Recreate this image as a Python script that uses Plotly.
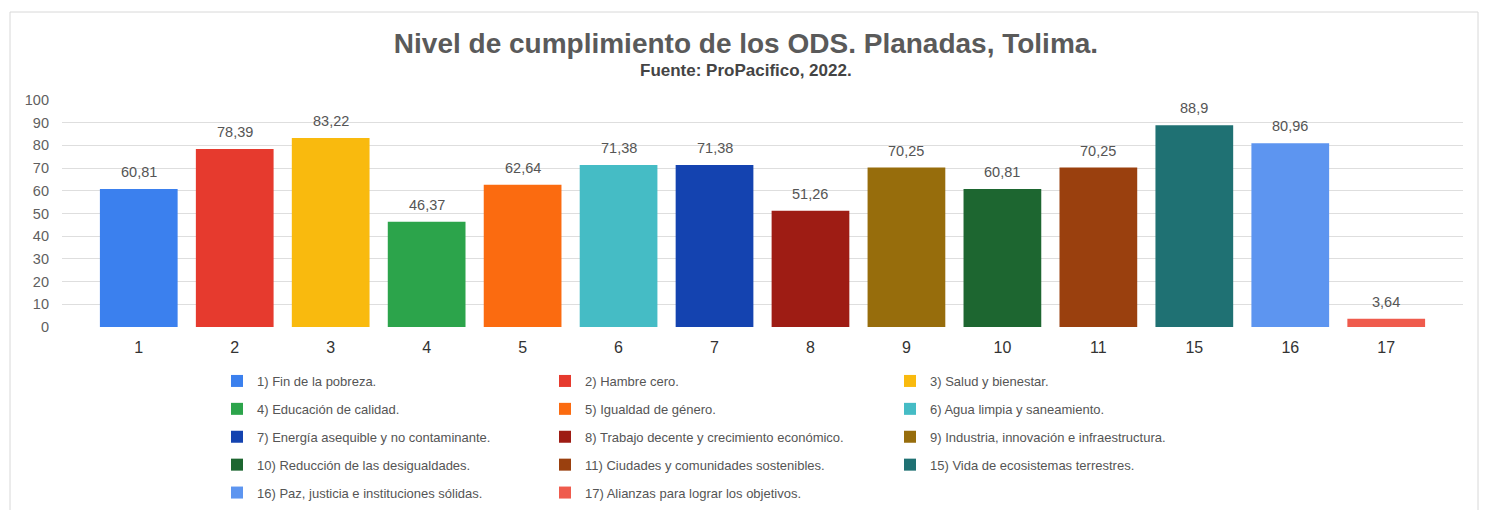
import plotly.graph_objects as go

categories = ["1", "2", "3", "4", "5", "6", "7", "8", "9", "10", "11", "15", "16", "17"]
values = [60.81, 78.39, 83.22, 46.37, 62.64, 71.38, 71.38, 51.26, 70.25, 60.81, 70.25, 88.9, 80.96, 3.64]
legend_names = [
    "1) Fin de la pobreza.",
    "2) Hambre cero.",
    "3) Salud y bienestar.",
    "4) Educación de calidad.",
    "5) Igualdad de género.",
    "6) Agua limpia y saneamiento.",
    "7) Energía asequible y no contaminante.",
    "8) Trabajo decente y crecimiento económico.",
    "9) Industria, innovación e infraestructura.",
    "10) Reducción de las desigualdades.",
    "11) Ciudades y comunidades sostenibles.",
    "15) Vida de ecosistemas terrestres.",
    "16) Paz, justicia e instituciones sólidas.",
    "17) Alianzas para lograr los objetivos.",
]
colors = [
    "#3b80ee", "#e63a2e", "#f9ba0e", "#2ca44b", "#fb6b10", "#45bcc5", "#1443b0",
    "#9e1c14", "#976d0c", "#1d6630", "#9a400e", "#1f7173", "#5d95f0", "#ef5b4d",
]
title_text = "Nivel de cumplimiento de los ODS. Planadas, Tolima."
subtitle_text = "Fuente: ProPacifico, 2022."

FONT = "Liberation Sans, Arial, sans-serif"

# page offset (default body margin) and figure geometry
OFF = 8
W, H = 1480, 502
PL, PR, PT, PB = 54, 25, 92, 183
pw = W - PL - PR
ph = H - PT - PB


def px_to_xpaper(px):
    return (px - OFF - PL) / pw


def py_to_ypaper(py):
    return (H - PB - (py - OFF)) / ph


def fmt(v):
    return ("%g" % v).replace(".", ",")


fig = go.Figure()
legend_ids = ["legend", "legend2", "legend3"]
for i, (cat, val, name, col) in enumerate(zip(categories, values, legend_names, colors)):
    fig.add_trace(go.Bar(
        x=[cat], y=[val], name=name,
        marker=dict(color=col, line=dict(width=0)),
        width=0.81,
        legend=legend_ids[i % 3],
        legendgroup="g%d" % i,
        hoverinfo="x+y",
    ))
    fig.add_annotation(
        x=i, y=val, xref="x", yref="y", text=fmt(val), showarrow=False,
        yanchor="bottom", yshift=7,
        font=dict(family=FONT, size=14.5, color="#555555"),
    )

fig.add_annotation(
    text="<b>%s</b>" % subtitle_text, xref="paper", yref="paper",
    x=px_to_xpaper(746), xanchor="center", y=py_to_ypaper(70), yanchor="middle",
    showarrow=False, font=dict(family=FONT, size=17, color="#444444"),
)

leg_common = dict(
    orientation="v", yanchor="top", xanchor="left",
    font=dict(family=FONT, size=13, color="#555555"),
    bgcolor="rgba(0,0,0,0)", traceorder="grouped", tracegroupgap=8,
    itemclick=False, itemdoubleclick=False,
)

fig.update_layout(
    width=W, height=H,
    margin=dict(l=PL, r=PR, t=PT, b=PB, autoexpand=False),
    paper_bgcolor="white", plot_bgcolor="white",
    barmode="overlay",
    showlegend=True,
    title=dict(
        text="<b>%s</b>" % title_text,
        x=(746 - OFF) / W, xanchor="center", xref="container",
        y=1 - (43 - OFF) / H, yanchor="middle", yref="container",
        font=dict(family=FONT, size=28, color="#5a5a5a"),
    ),
    xaxis=dict(
        type="category", range=[-0.8, 13.8],
        showgrid=False, zeroline=False, showline=False, ticks="",
        tickfont=dict(family=FONT, size=16, color="#333333"),
        ticklabelstandoff=9,
        fixedrange=True,
    ),
    yaxis=dict(
        range=[0, 100], dtick=10, tick0=0,
        showgrid=True, gridcolor="#dedede", gridwidth=1,
        zeroline=False, showline=False, ticks="",
        tickfont=dict(family=FONT, size=14.5, color="#5f5f5f"),
        ticklabelstandoff=12,
        fixedrange=True,
    ),
    legend=dict(leg_common, x=px_to_xpaper(217), y=py_to_ypaper(366)),
    legend2=dict(leg_common, x=px_to_xpaper(545), y=py_to_ypaper(366)),
    legend3=dict(leg_common, x=px_to_xpaper(890), y=py_to_ypaper(366)),
    shapes=[dict(
        type="rect", xref="paper", yref="paper", layer="below",
        x0=px_to_xpaper(10), x1=px_to_xpaper(1478),
        y0=py_to_ypaper(530), y1=py_to_ypaper(12),
        line=dict(color="#d8d8d8", width=1), fillcolor="rgba(0,0,0,0)",
    )],
)

fig.write_html("out.html")
